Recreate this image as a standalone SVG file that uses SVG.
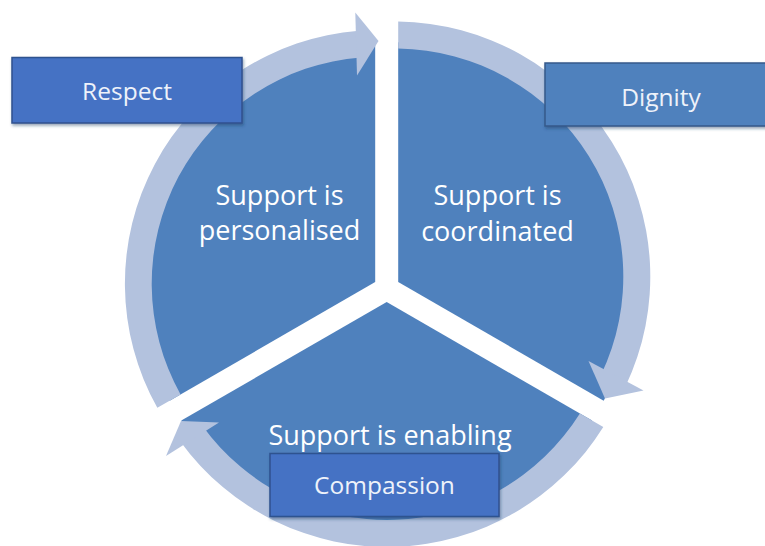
<svg xmlns="http://www.w3.org/2000/svg" width="765" height="546" viewBox="0 0 765 546">
  <defs>
    <filter id="boxShadow" x="-10%" y="-20%" width="120%" height="150%">
      <feDropShadow dx="1" dy="2" stdDeviation="1.5" flood-color="#1F3864" flood-opacity="0.45"/>
    </filter>
  </defs>
  <style>
    .segment { fill: #4F81BD; }
    .ring { fill: #B3C2DE; }
    .label { font-family: "Open Sans", "Noto Sans", "Liberation Sans", sans-serif; font-size: 27px; fill: #FFFFFF; text-anchor: middle; }
    .tag { stroke-width: 1.5; filter: url(#boxShadow); }
    .tag-blue { fill: #4472C4; stroke: #2F528F; }
    .tag-steel { fill: #4F81BD; stroke: #35598A; }
    .tag-text { font-family: "Open Sans", "Noto Sans", "Liberation Sans", sans-serif; font-size: 24.5px; fill: #EEF2FA; text-anchor: middle; }
  </style>

  <rect width="765" height="546" fill="#FFFFFF"/>

  <!-- pie segments -->
  <g id="segment-personalised">
    <path class="segment" d="M 375.2 282.06 L 375.2 42.27 A 245 245 0 0 0 169.7 400.7 Z"/>
    <text class="label" x="279.5" y="205">Support is</text>
    <text class="label" x="279.5" y="240">personalised</text>
  </g>

  <g id="segment-coordinated">
    <path class="segment" d="M 398.2 282.06 L 398.2 42.27 A 245 245 0 0 1 603.7 400.7 Z"/>
    <text class="label" x="497.5" y="204.5">Support is</text>
    <text class="label" x="497.5" y="240.5">coordinated</text>
  </g>

  <g id="segment-enabling">
    <path class="segment" d="M 386.7 301.98 L 592.1 420.6 A 245 245 0 0 1 181.3 420.6 Z"/>
    <text class="label" x="390" y="445">Support is enabling</text>
  </g>

  <!-- circular arrows around the cycle -->
  <g id="connectors">
    <g id="arrow-personalised-to-coordinated">
      <path class="ring" d="M 180.56 394.44 L 157.34 407.85 A 253.8 253.8 0 0 1 358.79 30.68 L 360.89 57.4 A 227 227 0 0 0 180.56 394.44 Z"/>
      <polygon class="ring" points="355.3,12.5 378.5,41 357,75.5"/>
    </g>
    <g id="arrow-coordinated-to-enabling">
      <path class="ring" d="M 398.2 48.62 L 398.2 21.62 A 255 255 0 0 1 625.46 386.38 L 601.09 374.76 A 228 228 0 0 0 398.2 48.62 Z"/>
      <polygon class="ring" points="588.5,361 643.5,390.5 605,398.5"/>
    </g>
    <g id="arrow-enabling-to-personalised">
      <path class="ring" d="M 579.9 413.53 L 603.3 427.04 A 255 255 0 0 1 180.7 441.89 L 202.54 426.02 A 228 228 0 0 0 579.9 413.53 Z"/>
      <polygon class="ring" points="219,422.5 181,421 166,456"/>
    </g>
  </g>

  <!-- value tags -->
  <g id="tag-respect">
    <rect class="tag tag-blue" x="12" y="57.5" width="230" height="65.5"/>
    <text class="tag-text" x="127" y="99.5">Respect</text>
  </g>

  <g id="tag-dignity">
    <rect class="tag tag-steel" x="545" y="63" width="232" height="63"/>
    <text class="tag-text" x="661" y="105.5">Dignity</text>
  </g>

  <g id="tag-compassion">
    <rect class="tag tag-blue" x="270" y="453.5" width="229" height="63"/>
    <text class="tag-text" x="384.5" y="493.5">Compassion</text>
  </g>
</svg>
